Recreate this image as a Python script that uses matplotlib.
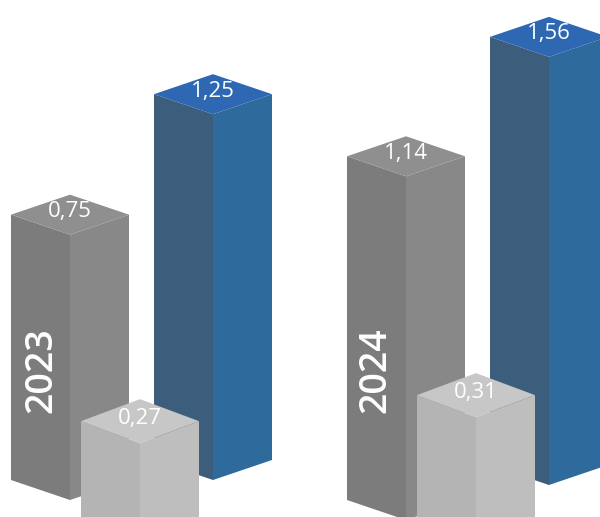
import matplotlib
matplotlib.use('Agg')
import matplotlib.pyplot as plt
from matplotlib.patches import Polygon

plt.rcParams['font.family'] = ['Open Sans', 'DejaVu Sans']

# Data
years = ['2023', '2024']
dark_vals = [0.75, 1.14]
light_vals = [0.27, 0.31]
blue_vals = [1.25, 1.56]

# Value scale of the fake 3D bars (pixel height per unit, axis starts below zero)
scale = 201
base = -0.57

# Layout: group offset and per-bar center / ground line (front bottom corner)
group_dx = 336
bar_w = 59
colors = {
    'dark': ('#7b7c7b', '#878887', '#8e8f8e'),
    'light': ('#b3b4b3', '#bdbebd', '#c6c7c6'),
    'blue': ('#3c5d7c', '#2f6a9c', '#2e67b2'),
}


def bar_h(v):
    return scale * (v - base)


def prism(ax, cx, ground, v, cols, dy=20, label=None):
    h = bar_h(v)
    top = ground - h
    left, right, top_c = cols
    # left face
    ax.add_patch(Polygon([(cx - bar_w, top - dy), (cx, top), (cx, ground), (cx - bar_w, ground - dy)],
                         closed=True, fc=left, ec='none'))
    # right face
    ax.add_patch(Polygon([(cx, top), (cx + bar_w, top - dy), (cx + bar_w, ground - dy), (cx, ground)],
                         closed=True, fc=right, ec='none'))
    # top face
    ax.add_patch(Polygon([(cx - bar_w, top - dy), (cx, top - 2 * dy), (cx + bar_w, top - dy), (cx, top)],
                         closed=True, fc=top_c, ec='none'))
    if label is not None:
        ax.text(cx, top - dy - 3, label, color='white', fontsize=16, ha='center', va='center')


fig = plt.figure(figsize=(6, 5.17), dpi=100)
ax = fig.add_axes([0, 0, 1, 1])
ax.set_xlim(0, 600)
ax.set_ylim(517, 0)
ax.axis('off')

fmt = lambda v: f'{v:.2f}'.replace('.', ',')

grounds_dark = [500, 520]
grounds_blue = [480, 485]
grounds_light = [612, 594]

for i, yr in enumerate(years):
    x0 = 70 + i * group_dx
    prism(ax, x0, grounds_dark[i], dark_vals[i], colors['dark'], label=fmt(dark_vals[i]))
    prism(ax, x0 + 143, grounds_blue[i], blue_vals[i], colors['blue'], label=fmt(blue_vals[i]))
    prism(ax, x0 + 70, grounds_light[i], light_vals[i], colors['light'], dy=22, label=fmt(light_vals[i]))
    ax.text(x0 - 29 + i * -2, 370, yr, color='white', fontsize=27, rotation=90,
            ha='center', va='center', fontweight='semibold')

fig.savefig('out.png', dpi=100)
